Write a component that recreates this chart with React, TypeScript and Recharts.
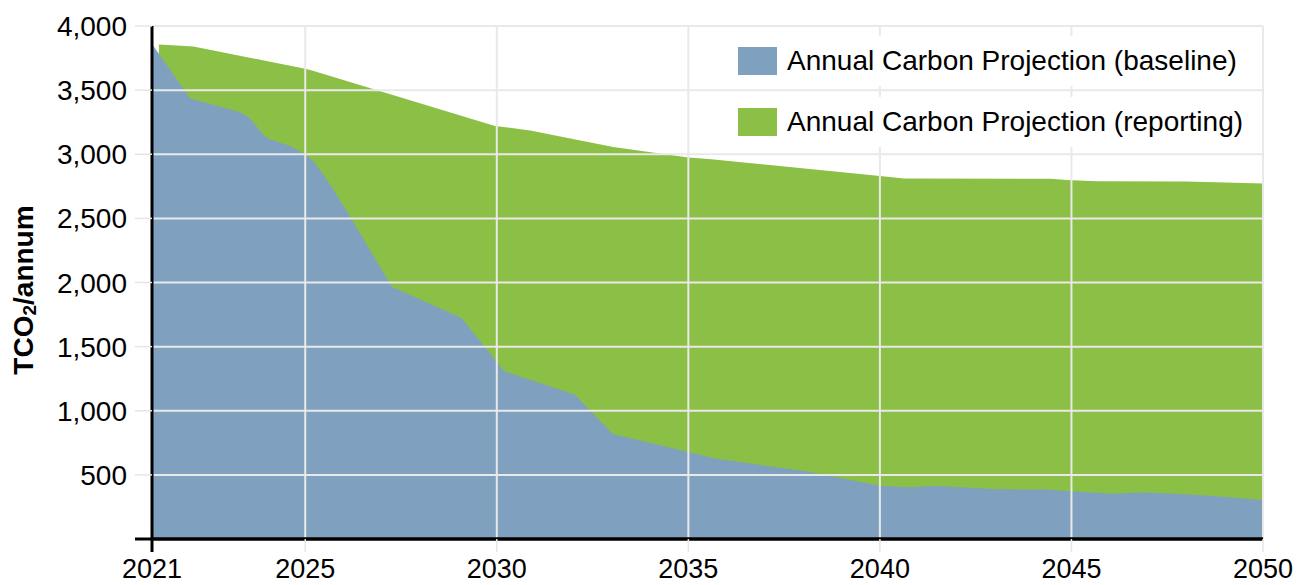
import { Area, AreaChart, CartesianGrid, XAxis, YAxis } from "recharts";

const FONT = '"Liberation Sans", Arial, Helvetica, sans-serif';
const BLUE = "#7fa1bf";
const GREEN = "#8bbf45";

// baseline projection (blue), year as decimal
const baselineYears = [
  2021.0, 2022.0, 2023.2, 2023.45, 2023.6, 2023.8, 2024.0, 2024.6, 2025.0, 2025.2,
  2025.45, 2025.7, 2025.95, 2026.2, 2027.26, 2029.08, 2030.2, 2032.04, 2033.03,
  2035.7, 2038.1, 2039.7, 2040.0, 2040.7, 2041.5, 2043.1, 2044.3, 2044.85, 2046.1,
  2046.8, 2047.7, 2048.7, 2050.0,
];
const baselineValues = [
  3860, 3435, 3338, 3305, 3265, 3190, 3125, 3065, 3000, 2950,
  2850, 2740, 2620, 2500, 1966, 1724, 1307, 1125, 818,
  627, 526, 432, 415, 404, 414, 388, 385, 375, 352,
  362, 352, 336, 305,
];

// reporting projection (green)
const reportingYears = [
  2021.18, 2022.08, 2025.03, 2025.2, 2029.95, 2030.87, 2033.04, 2035.0, 2035.6,
  2040.0, 2040.63, 2044.45, 2044.87, 2045.66, 2048.0, 2050.0,
];
const reportingValues = [
  3855, 3840, 3665, 3651, 3221, 3186, 3057, 2974, 2961,
  2831, 2810, 2808, 2799, 2789, 2787, 2772,
];

const xTicks = [2021, 2025, 2030, 2035, 2040, 2045, 2050];
const yTicks = [0, 500, 1000, 1500, 2000, 2500, 3000, 3500, 4000];

const legendItems = [
  { label: "Annual Carbon Projection (baseline)", color: BLUE },
  { label: "Annual Carbon Projection (reporting)", color: GREEN },
];

const baseline = baselineYears.map((year, i) => ({ year, value: baselineValues[i] }));
const reporting = reportingYears.map((year, i) => ({ year, value: reportingValues[i] }));

const XTick = (props: any) => {
  const { x, y, payload } = props;
  const first = payload.value === xTicks[0];
  return (
    <g>
      <line
        x1={x}
        x2={x}
        y1={y - 21}
        y2={y - 8}
        stroke={first ? "#000" : "#e6e6e6"}
        strokeWidth={first ? 3 : 1.5}
      />
      <text x={x} y={y} dy={18} textAnchor="middle" fontSize={27} fontFamily={FONT} fill="#000">
        {payload.value}
      </text>
    </g>
  );
};

const YTick = (props: any) => {
  const { x, y, payload } = props;
  const zero = payload.value === 0;
  return (
    <g>
      <line
        x1={x + 8}
        x2={x + 25}
        y1={y}
        y2={y}
        stroke={zero ? "#000" : "#e6e6e6"}
        strokeWidth={zero ? 3 : 1.5}
      />
      {!zero && (
        <text x={x} y={y} dy={10} textAnchor="end" fontSize={28} fontFamily={FONT} fill="#000">
          {payload.value.toLocaleString("en-US")}
        </text>
      )}
    </g>
  );
};

const LegendBox = () => (
  <div style={{ position: "absolute", left: 732, top: 36, fontFamily: FONT }}>
    {legendItems.map((item, i) => (
      <div
        key={item.label}
        style={{
          display: "flex",
          alignItems: "center",
          height: 50,
          marginTop: i === 0 ? 0 : 11,
          paddingLeft: 6,
          background: "#fff",
          width: 518,
        }}
      >
        <div style={{ width: 39, height: 28, background: item.color, marginRight: 10 }} />
        <span style={{ fontSize: 28, color: "#000", whiteSpace: "nowrap" }}>{item.label}</span>
      </div>
    ))}
  </div>
);

export default function App() {
  return (
    <div style={{ position: "absolute", left: 0, top: 0, width: 1305, height: 585, background: "#fff" }}>
      <AreaChart width={1305} height={585} margin={{ top: 26, right: 42, bottom: 0, left: 0 }}>
        <XAxis
          dataKey="year"
          type="number"
          domain={[2021, 2050]}
          ticks={xTicks}
          allowDataOverflow
          height={46}
          tickSize={13}
          tickMargin={8}
          tickLine={false}
          tick={<XTick />}
          axisLine={{ stroke: "#000", strokeWidth: 3.5 }}
        />
        <YAxis
          type="number"
          domain={[0, 4000]}
          ticks={yTicks}
          width={152}
          tickSize={17}
          tickMargin={8}
          tickLine={false}
          tick={<YTick />}
          axisLine={{ stroke: "#000", strokeWidth: 3 }}
        />
        <Area
          data={reporting}
          dataKey="value"
          type="linear"
          stroke="none"
          fill={GREEN}
          fillOpacity={1}
          isAnimationActive={false}
        />
        <Area
          data={baseline}
          dataKey="value"
          type="linear"
          stroke="none"
          fill={BLUE}
          fillOpacity={1}
          isAnimationActive={false}
        />
        <CartesianGrid
          stroke="#e9e9e9"
          strokeWidth={2}
          horizontalValues={yTicks}
          verticalValues={xTicks}
          zIndex={150}
        />
      </AreaChart>
      <LegendBox />
      <svg
        width={60}
        height={585}
        style={{ position: "absolute", left: 0, top: 0, pointerEvents: "none" }}
      >
        <text
          transform="translate(33 290) rotate(-90)"
          textAnchor="middle"
          fontSize={28}
          fontWeight="bold"
          fontFamily={FONT}
          fill="#000"
        >
          TCO<tspan fontSize={19} dy={3}>2</tspan>
          <tspan dy={-3}>/annum</tspan>
        </text>
      </svg>
    </div>
  );
}
